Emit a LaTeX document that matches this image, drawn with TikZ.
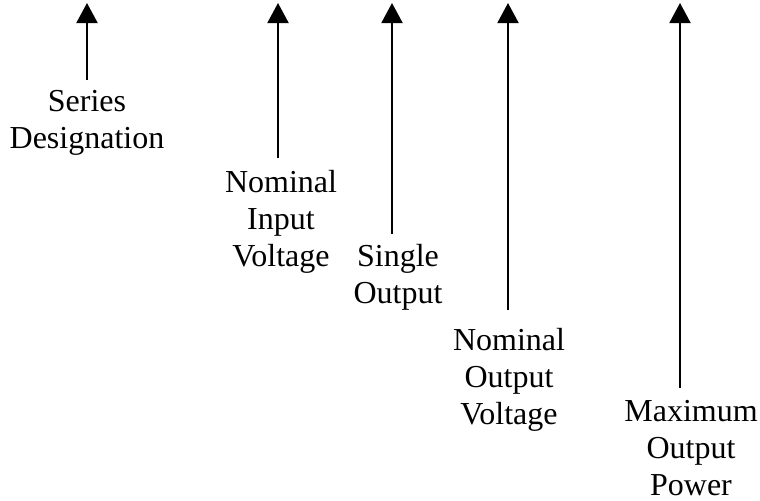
\documentclass[tikz,border=0pt]{standalone}
\usepackage{fontspec}
\setmainfont{Liberation Serif}
\usetikzlibrary{arrows.meta}

\begin{document}
\begin{tikzpicture}[x=0.5pt,y=-0.5pt]
\tikzstyle{every node}+=[inner sep=0pt]
\tikzstyle{lbl}=[anchor=north, align=center, font=\fontsize{16}{18.5}\selectfont]
\tikzstyle{ptr}=[black, line width=1pt, -{Triangle[width=10.5pt,length=10pt]}]
\useasboundingbox (0,0) rectangle (760,500);
% arrow tips
\coordinate (serTip) at (87,3);
\coordinate (vinTip) at (278,3);
\coordinate (sglTip) at (392,3);
\coordinate (voutTip) at (508,3);
\coordinate (powTip) at (680,3);
% labels
\node [lbl] (ser) at (87,90) {Series\\Designation};
\node [lbl] (vin) at (281,170) {Nominal\\Input\\Voltage};
\node [lbl] (sgl) at (398,244) {Single\\Output};
\node [lbl] (vout) at (509,328) {Nominal\\Output\\Voltage};
\node [lbl] (pow) at (691,400) {Maximum\\Output\\Power};
% pointers
\draw [ptr] ([yshift=5pt]serTip |- ser.north) -- (serTip);
\draw [ptr] ([yshift=6pt]vinTip |- vin.north) -- (vinTip);
\draw [ptr] ([yshift=5pt]sglTip |- sgl.north) -- (sglTip);
\draw [ptr] ([yshift=9pt]voutTip |- vout.north) -- (voutTip);
\draw [ptr] ([yshift=6pt]powTip |- pow.north) -- (powTip);
\end{tikzpicture}
\end{document}
